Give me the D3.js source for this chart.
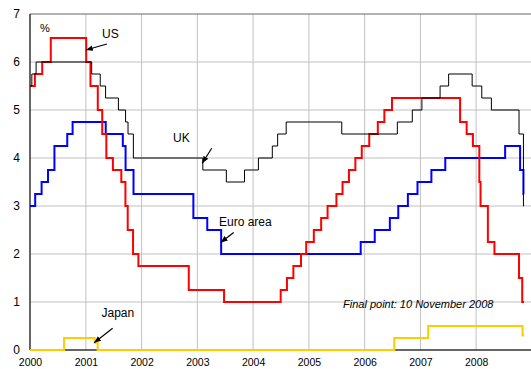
<!DOCTYPE html>
<html lang="en">
<head>
    <meta charset="UTF-8">
    <title>Policy rates</title>
    <script src="https://cdnjs.cloudflare.com/ajax/libs/d3/7.8.5/d3.min.js"></script>
    <style>
        body { margin: 0; background: #fff; }
        text { font-family: Arial, "Liberation Sans", sans-serif; fill: #000; }
        .grid line { stroke: #c0c0c0; stroke-width: 1; }
        .series { fill: none; }
    </style>
</head>
<body>
    <div id="chart"></div>

    <script>
        // policy rate change points: [date, rate %]
        const usRates = [
            ["2000-01-01", 5.5], ["2000-02-02", 5.75], ["2000-03-21", 6.0], ["2000-05-16", 6.5],
            ["2001-01-03", 6.0], ["2001-01-31", 5.5], ["2001-03-20", 5.0], ["2001-04-18", 4.5],
            ["2001-05-15", 4.0], ["2001-06-27", 3.75], ["2001-08-21", 3.5], ["2001-09-17", 3.0],
            ["2001-10-02", 2.5], ["2001-11-06", 2.0], ["2001-12-11", 1.75], ["2002-11-06", 1.25],
            ["2003-06-25", 1.0], ["2004-06-30", 1.25], ["2004-08-10", 1.5], ["2004-09-21", 1.75],
            ["2004-11-10", 2.0], ["2004-12-14", 2.25], ["2005-02-02", 2.5], ["2005-03-22", 2.75],
            ["2005-05-03", 3.0], ["2005-06-30", 3.25], ["2005-08-09", 3.5], ["2005-09-20", 3.75],
            ["2005-11-01", 4.0], ["2005-12-13", 4.25], ["2006-01-31", 4.5], ["2006-03-28", 4.75],
            ["2006-05-10", 5.0], ["2006-06-29", 5.25], ["2007-09-18", 4.75], ["2007-10-31", 4.5],
            ["2007-12-11", 4.25], ["2008-01-22", 3.5], ["2008-01-30", 3.0], ["2008-03-18", 2.25],
            ["2008-04-30", 2.0], ["2008-10-08", 1.5], ["2008-10-29", 1.0]
        ];
        const euroRates = [
            ["2000-01-01", 3.0], ["2000-02-04", 3.25], ["2000-03-17", 3.5], ["2000-04-28", 3.75],
            ["2000-06-09", 4.25], ["2000-09-01", 4.5], ["2000-10-06", 4.75], ["2001-05-11", 4.5],
            ["2001-08-31", 4.25], ["2001-09-18", 3.75], ["2001-11-09", 3.25], ["2002-12-06", 2.75],
            ["2003-03-07", 2.5], ["2003-06-06", 2.0], ["2005-12-06", 2.25], ["2006-03-08", 2.5],
            ["2006-06-15", 2.75], ["2006-08-09", 3.0], ["2006-10-11", 3.25], ["2006-12-13", 3.5],
            ["2007-03-14", 3.75], ["2007-06-13", 4.0], ["2008-07-09", 4.25], ["2008-10-15", 3.75],
            ["2008-11-06", 3.25]
        ];
        const ukRates = [
            ["2000-01-01", 5.5], ["2000-01-13", 5.75], ["2000-02-10", 6.0], ["2001-02-08", 5.75],
            ["2001-04-05", 5.5], ["2001-05-10", 5.25], ["2001-08-02", 5.0], ["2001-09-18", 4.75],
            ["2001-10-04", 4.5], ["2001-11-08", 4.0], ["2003-02-06", 3.75], ["2003-07-10", 3.5],
            ["2003-11-06", 3.75], ["2004-02-05", 4.0], ["2004-05-06", 4.25], ["2004-06-10", 4.5],
            ["2004-08-05", 4.75], ["2005-08-04", 4.5], ["2006-08-03", 4.75], ["2006-11-09", 5.0],
            ["2007-01-11", 5.25], ["2007-05-10", 5.5], ["2007-07-05", 5.75], ["2007-12-06", 5.5],
            ["2008-02-07", 5.25], ["2008-04-10", 5.0], ["2008-10-08", 4.5], ["2008-11-06", 3.0]
        ];
        const japanRates = [
            ["2000-01-01", 0.0], ["2000-08-11", 0.25], ["2001-02-28", 0.15], ["2001-03-19", 0.0],
            ["2006-07-14", 0.25], ["2007-02-21", 0.5], ["2008-10-31", 0.3]
        ];
        const finalDate = "2008-11-10";

        const yearTicks = [2000, 2001, 2002, 2003, 2004, 2005, 2006, 2007, 2008];
        const rateTicks = [0, 1, 2, 3, 4, 5, 6, 7];

        const width = 531;
        const height = 369;
        const m = { left: 30, right: 532, top: 14, bottom: 350 };

        const parse = d3.timeParse("%Y-%m-%d");

        const x = d3.scaleTime()
            .domain([new Date(2000, 0, 1), new Date(2009, 0, 1)])
            .range([m.left, m.right]);
        const y = d3.scaleLinear().domain([0, 7]).range([m.bottom, m.top]);

        const svg = d3.select("#chart").append("svg")
            .attr("width", width)
            .attr("height", height);

        // grid
        const grid = svg.append("g").attr("class", "grid");
        grid.selectAll(".h").data(rateTicks.slice(1, -1)).enter().append("line")
            .attr("x1", m.left).attr("x2", width)
            .attr("y1", d => y(d)).attr("y2", d => y(d));
        grid.selectAll(".v").data(yearTicks.slice(1)).enter().append("line")
            .attr("x1", d => x(new Date(d, 0, 1))).attr("x2", d => x(new Date(d, 0, 1)))
            .attr("y1", m.top).attr("y2", m.bottom);

        // frame
        svg.append("line").attr("x1", m.left).attr("x2", width).attr("y1", m.top).attr("y2", m.top)
            .attr("stroke", "#666").attr("stroke-width", 1);
        svg.append("line").attr("x1", m.left).attr("x2", m.left).attr("y1", m.top).attr("y2", m.bottom)
            .attr("stroke", "#333").attr("stroke-width", 1.5);
        svg.append("line").attr("x1", m.left).attr("x2", width).attr("y1", m.bottom).attr("y2", m.bottom)
            .attr("stroke", "#333").attr("stroke-width", 1.5);

        // axes (labels only)
        const xAxis = svg.append("g")
            .attr("transform", "translate(0," + m.bottom + ")")
            .call(d3.axisBottom(x).tickValues(yearTicks.map(d => new Date(d, 0, 1)))
                .tickFormat(d3.timeFormat("%Y")).tickSize(0).tickPadding(9));
        xAxis.select(".domain").remove();
        xAxis.selectAll("text").attr("font-size", "10.5px").attr("font-family", null);

        const yAxis = svg.append("g")
            .attr("transform", "translate(" + m.left + ",0)")
            .call(d3.axisLeft(y).tickValues(rateTicks).tickFormat(d3.format("d"))
                .tickSize(0).tickPadding(10));
        yAxis.select(".domain").remove();
        yAxis.selectAll("text").attr("font-size", "12px").attr("font-family", null);

        // step lines
        const line = d3.line()
            .x(d => x(d[0])).y(d => y(d[1]))
            .curve(d3.curveStepAfter);

        function steps(rates) {
            const pts = rates.map(d => [parse(d[0]), d[1]]);
            pts.push([parse(finalDate), rates[rates.length - 1][1]]);
            return pts;
        }

        const series = [
            { data: euroRates, color: "#0000ff", w: 2 },
            { data: usRates, color: "#ff0000", w: 2 },
            { data: ukRates, color: "#000000", w: 1 },
            { data: japanRates, color: "#ffcc00", w: 2 }
        ];
        svg.selectAll(".series").data(series).enter().append("path")
            .attr("class", "series")
            .attr("d", d => line(steps(d.data)))
            .attr("stroke", d => d.color)
            .attr("stroke-width", d => d.w);

        // labels with arrows
        svg.append("defs").append("marker")
            .attr("id", "head")
            .attr("viewBox", "0 0 10 10")
            .attr("refX", 10).attr("refY", 5)
            .attr("markerWidth", 7).attr("markerHeight", 7)
            .attr("markerUnits", "userSpaceOnUse")
            .attr("orient", "auto")
            .append("path").attr("d", "M0,1L10,5L0,9Z").attr("fill", "#000");

        const notes = [
            { text: "US", tx: 102, ty: 38, date: "2001-01-01", rate: 6.25, dx: 21, dy: -6 },
            { text: "UK", tx: 173, ty: 141.5, date: "2003-02-02", rate: 3.89, dx: 9.5, dy: -15 },
            { text: "Euro area", tx: 219, ty: 226, date: "2003-06-03", rate: 2.24, dx: 13, dy: -10 },
            { text: "Japan", tx: 101.5, ty: 317, date: "2001-02-24", rate: 0.15, dx: 18.5, dy: -14.5 }
        ];
        notes.forEach(n => {
            const px = x(parse(n.date)), py = y(n.rate);
            svg.append("line")
                .attr("x1", px + n.dx).attr("y1", py + n.dy)
                .attr("x2", px).attr("y2", py)
                .attr("stroke", "#000").attr("stroke-width", 1.2)
                .attr("marker-end", "url(#head)");
            svg.append("text").attr("x", n.tx).attr("y", n.ty)
                .attr("font-size", "12px").text(n.text);
        });

        svg.append("text").attr("x", 40).attr("y", 31.5)
            .attr("font-size", "11px").text("%");

        svg.append("text").attr("x", 343).attr("y", 307.5)
            .attr("font-size", "11px").attr("font-style", "italic")
            .text("Final point: 10 November 2008");
    </script>
</body>
</html>
